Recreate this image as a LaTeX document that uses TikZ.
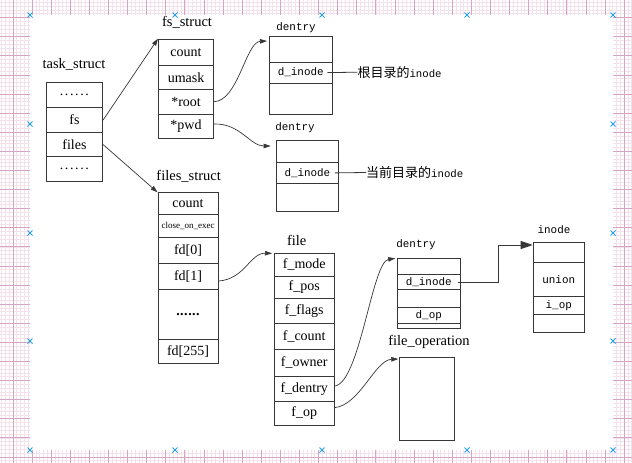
\documentclass[tikz,border=0pt]{standalone}
\usepackage{fontspec}
\setmainfont{Liberation Serif}
\setmonofont{Liberation Mono}
\newfontfamily\cjkfont{Noto Sans CJK SC}
\usetikzlibrary{arrows.meta}
\definecolor{gridfine}{RGB}{243,225,236}
\definecolor{gridmid}{RGB}{212,165,196}
\definecolor{xblue}{RGB}{40,160,230}
\definecolor{boxline}{RGB}{55,55,55}
\newcommand\lightdots{.\kern1.6pt.\kern1.6pt.\kern1.6pt.\kern1.6pt.\kern1.6pt.}
\newcommand\bolddots{\textbf{.\kern0.5pt.\kern0.5pt.\kern0.5pt.\kern0.5pt.\kern0.5pt.}}
\tikzset{
 cell/.style={draw=boxline, line width=0.8pt, inner sep=0pt, anchor=north west, font=\fontsize{14}{16}\selectfont},
 mcell/.style={cell, font=\fontsize{10.9}{12}\selectfont\ttfamily},
 ttl/.style={inner sep=0pt, font=\fontsize{14.5}{16}\selectfont},
 mttl/.style={inner sep=0pt, font=\fontsize{10.9}{12}\selectfont\ttfamily},
 lbl/.style={inner sep=0pt, anchor=west},
 ptr/.style={draw=boxline, line width=0.7pt, -{Triangle[length=7pt,width=4.5pt]}},
 bigptr/.style={draw=boxline, line width=0.8pt, -{Triangle[length=12pt,width=8pt]}},
 plain/.style={draw=boxline, line width=0.8pt},
 xmark/.style={draw=xblue, line width=0.9pt},
}
\begin{document}
\begin{tikzpicture}[x=1pt,y=-1pt]
\useasboundingbox (0,0) rectangle (632,463);
% background grid
\begin{scope}[shift={(13,457)}]
 \draw[gridfine, line width=0.8pt, xstep=3.82pt, ystep=3.82pt] (-13,6) grid (619,-457);
 \draw[gridmid, line width=0.9pt, xstep=19.1pt, ystep=19.1pt] (-13,6) grid (619,-457);
\end{scope}
\fill[white] (30,15) rectangle (613,450);

% task_struct
\node[ttl] (tsT) at (74,64) {task\_struct};
\node[cell, minimum width=56.6pt, minimum height=25.6pt] (ts1) at (45.7,81.7) {\lightdots};
\node[cell, minimum width=56.6pt, minimum height=24.7pt] (ts2) at (45.7,107.3) {fs};
\node[cell, minimum width=56.6pt, minimum height=24.3pt] (ts3) at (45.7,132) {files};
\node[cell, minimum width=56.6pt, minimum height=25pt] (ts4) at (45.7,156.3) {\lightdots};

% fs_struct
\node[ttl] (fsT) at (187,22.7) {fs\_struct};
\node[cell, minimum width=55.3pt, minimum height=26.6pt] (fs1) at (158,38.7) {count};
\node[cell, minimum width=55.3pt, minimum height=24pt] (fs2) at (158,65.3) {umask};
\node[cell, minimum width=55.3pt, minimum height=25pt] (fs3) at (158,89.3) {*root};
\node[cell, minimum width=55.3pt, minimum height=23.7pt] (fs4) at (158,114.3) {*pwd};

% files_struct
\node[ttl] (flT) at (188.7,176.3) {files\_struct};
\node[cell, minimum width=60.2pt, minimum height=22pt] (fl1) at (157.5,192.3) {count};
\node[cell, minimum width=60.2pt, minimum height=23pt] (fl2) at (157.5,214.3) {\fontsize{9}{10}\selectfont close\_on\_exec};
\node[cell, minimum width=60.2pt, minimum height=26pt] (fl3) at (157.5,237.3) {fd[0]};
\node[cell, minimum width=60.2pt, minimum height=25.7pt] (fl4) at (157.5,263.3) {fd[1]};
\node[cell, minimum width=60.2pt, minimum height=50.3pt] (fl5) at (157.5,289) {\bolddots};
\node[cell, minimum width=60.2pt, minimum height=24pt] (fl6) at (157.5,339.3) {fd[255]};

% file
\node[ttl] (fiT) at (296.7,240) {file};
\node[cell, minimum width=59.7pt, minimum height=22.4pt] (fi1) at (274,253.3) {f\_mode};
\node[cell, minimum width=59.7pt, minimum height=22.6pt] (fi2) at (274,275.7) {f\_pos};
\node[cell, minimum width=59.7pt, minimum height=25pt] (fi3) at (274,298.3) {f\_flags};
\node[cell, minimum width=59.7pt, minimum height=26pt] (fi4) at (274,323.3) {f\_count};
\node[cell, minimum width=59.7pt, minimum height=26.4pt] (fi5) at (274,349.3) {f\_owner};
\node[cell, minimum width=59.7pt, minimum height=25.3pt] (fi6) at (274,375.7) {f\_dentry};
\node[cell, minimum width=59.7pt, minimum height=24pt] (fi7) at (274,401) {f\_op};

% dentry (root)
\node[mttl] (d1T) at (296,27.3) {dentry};
\node[mcell, minimum width=62.7pt, minimum height=25.7pt] (d1a) at (269,36) {};
\node[mcell, minimum width=62.7pt, minimum height=21pt] (d1b) at (269,61.7) {d\_inode};
\node[mcell, minimum width=62.7pt, minimum height=31.6pt] (d1c) at (269,82.7) {};
\node[lbl] (rootlbl) at (357.3,72.2) {{\cjkfont\fontsize{13}{14}\selectfont 根目录的}{\fontsize{10.7}{12}\selectfont\ttfamily inode}};

% dentry (pwd)
\node[mttl] (d2T) at (295,127.3) {dentry};
\node[mcell, minimum width=62.6pt, minimum height=22.3pt] (d2a) at (275.7,140) {};
\node[mcell, minimum width=62.6pt, minimum height=20.4pt] (d2b) at (275.7,162.3) {d\_inode};
\node[mcell, minimum width=62.6pt, minimum height=28pt] (d2c) at (275.7,182.7) {};
\node[lbl] (pwdlbl) at (366,172.5) {{\cjkfont\fontsize{13}{14}\selectfont 当前目录的}{\fontsize{10.7}{12}\selectfont\ttfamily inode}};

% dentry (file)
\node[mttl] (d3T) at (416,245) {dentry};
\node[mcell, minimum width=63.3pt, minimum height=15.7pt] (d3a) at (396.7,258.3) {};
\node[mcell, minimum width=63.3pt, minimum height=15pt] (d3b) at (396.7,274) {d\_inode};
\node[mcell, minimum width=63.3pt, minimum height=18.3pt] (d3c) at (396.7,289) {};
\node[mcell, minimum width=63.3pt, minimum height=15.4pt] (d3d) at (396.7,307.3) {d\_op};
\node[mcell, minimum width=63.3pt, minimum height=5.6pt] (d3e) at (396.7,322.7) {};

% inode
\node[mttl] (inT) at (554,229.3) {inode};
\node[mcell, minimum width=51.3pt, minimum height=20.6pt] (in1) at (532.7,241.7) {};
\node[mcell, minimum width=51.3pt, minimum height=33.7pt] (in2) at (532.7,262.3) {union};
\node[mcell, minimum width=51.3pt, minimum height=18.3pt] (in3) at (532.7,296) {i\_op};
\node[mcell, minimum width=51.3pt, minimum height=17.4pt] (in4) at (532.7,314.3) {};

% file_operation
\node[ttl] (foT) at (429,341.7) {file\_operation};
\node[cell, minimum width=55pt, minimum height=83.3pt] (fo) at (399.3,356.7) {};

% connectors
\draw[ptr] (ts2.east) -- (fs1.north west);
\draw[ptr] (ts3.east) -- (fl1.north west);
\draw[ptr] ([yshift=0.5pt]fs3.east) .. controls (238,101) and (246,42) .. ([xshift=-2pt,yshift=-5pt]d1a.north west);
\draw[ptr] ([yshift=2.5pt]fs4.east) .. controls (240,123) and (250,146) .. ([xshift=-5pt,yshift=-6pt]d2a.north west);
\draw[ptr] ([yshift=-4.5pt]fl4.east) .. controls (245,279) and (250,253) .. ([xshift=-2pt]fi1.north west);
\draw[ptr] ([yshift=2.6pt]fi6.east) .. controls (360,383) and (372,262) .. ([xshift=-1.5pt]d3a.north west);
\draw[ptr] ([yshift=5.7pt]fi7.east) .. controls (360,405) and (375,360) .. ([xshift=-1pt,yshift=-2.3pt]fo.north west);
\draw[plain] ([xshift=-5pt]d1b.east) -- (rootlbl.west);
\draw[plain] ([xshift=-4.3pt]d2b.east) -- (pwdlbl.west);
\draw[bigptr] ([xshift=-3pt]d3b.east) -- ++(40.3,0) |- ([yshift=-3.3pt]in1.north west);

% page marks
\foreach \x in {30,175,322,467,613} {
 \foreach \y in {15,450} {
  \draw[xmark] (\x-2.5,\y-2.5) -- (\x+2.5,\y+2.5) (\x-2.5,\y+2.5) -- (\x+2.5,\y-2.5);
 }
}
\foreach \y in {124,233,341} {
 \foreach \x in {30,613} {
  \draw[xmark] (\x-2.5,\y-2.5) -- (\x+2.5,\y+2.5) (\x-2.5,\y+2.5) -- (\x+2.5,\y-2.5);
 }
}
\end{tikzpicture}
\end{document}
